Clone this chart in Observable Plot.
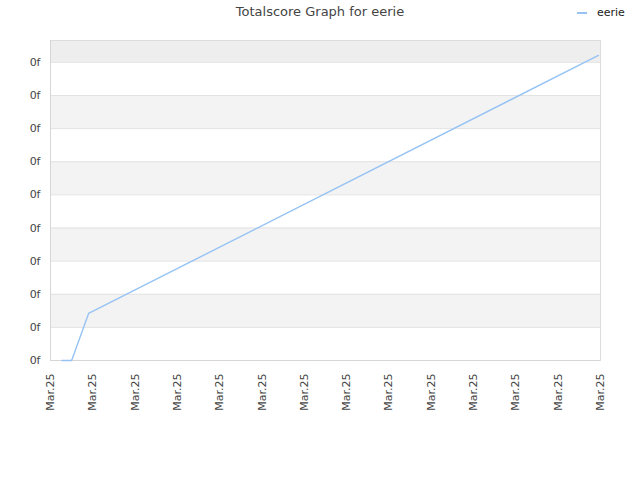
<!DOCTYPE html>
<html>
<head>
<meta charset="utf-8">
<script src="https://cdn.jsdelivr.net/npm/d3@7"></script>
<script src="https://cdn.jsdelivr.net/npm/@observablehq/plot@0.6"></script>
<style>
  html, body { margin: 0; padding: 0; background: #fff; }
  #wrap { position: relative; width: 640px; height: 480px; font-family: "DejaVu Sans", sans-serif; }
  #title { position: absolute; left: 0; width: 640px; top: 4px; text-align: center; font-size: 13px; color: #444; }
  #legend { position: absolute; left: 577px; top: 6px; font-size: 11px; color: #222; display: flex; align-items: center; }
  #legend .sw { display: inline-block; width: 10px; height: 2px; background: #96c3f3; margin-right: 10px; }
  #chart { position: absolute; left: 0; top: 0; }
</style>
</head>
<body>
<div id="wrap">
  <div id="chart"></div>
  <div id="title">Totalscore Graph for eerie</div>
  <div id="legend"><span class="sw"></span><span>eerie</span></div>
</div>
<script>
// Series (x in tick-index units, y in score units)
const seriesName = "eerie";
const pointX = [0.27, 0.5, 0.9, 12.95];
const pointY = [0, 0, 1.42, 9.21];

// Tick labels
const xTickValues = [0,1,2,3,4,5,6,7,8,9,10,11,12,13];
const xTickLabels = ["Mar.25","Mar.25","Mar.25","Mar.25","Mar.25","Mar.25","Mar.25","Mar.25","Mar.25","Mar.25","Mar.25","Mar.25","Mar.25","Mar.25"];
const yTickValues = [0,1,2,3,4,5,6,7,8,9];
const yTickLabels = ["0f","0f","0f","0f","0f","0f","0f","0f","0f","0f"];
const yMax = 9.66;

// Shaded bands between grid lines
const bandStarts = [1, 3, 5, 7];

const data = pointX.map((x, i) => ({x, y: pointY[i], series: seriesName}));
const bands = bandStarts.map(s => ({y1: s, y2: s + 1}));
const topBand = [{y1: 9, y2: yMax}];

const chart = Plot.plot({
  width: 640,
  height: 480,
  marginLeft: 50,
  marginRight: 40,
  marginTop: 40,
  marginBottom: 120,
  style: {fontFamily: "DejaVu Sans, sans-serif", fontSize: "11px", color: "#333", background: "transparent"},
  x: {domain: [0, 13]},
  y: {domain: [0, yMax]},
  marks: [
    Plot.rect(bands, {x1: 0, x2: 13, y1: "y1", y2: "y2", fill: "#f3f3f3"}),
    Plot.rect(topBand, {x1: 0, x2: 13, y1: "y1", y2: "y2", fill: "#eeeeee"}),
    Plot.ruleY(yTickValues, {stroke: "#e2e2e2", strokeWidth: 1}),
    Plot.frame({stroke: "#dddddd"}),
    Plot.ruleX([0], {stroke: "#d6d6d6"}),
    Plot.ruleY([0], {stroke: "#d6d6d6"}),
    Plot.line(data, {x: "x", y: "y", stroke: "#96c3f3", strokeWidth: 1.4}),
    Plot.axisY(yTickValues, {tickSize: 0, tickPadding: 10, tickFormat: (d, i) => yTickLabels[i], fill: "#444", label: null}),
    Plot.axisX(xTickValues, {tickSize: 0, tickPadding: 13, tickRotate: -90, tickFormat: (d, i) => xTickLabels[i], fill: "#444", label: null})
  ]
});
document.getElementById("chart").appendChild(chart);
</script>
</body>
</html>
